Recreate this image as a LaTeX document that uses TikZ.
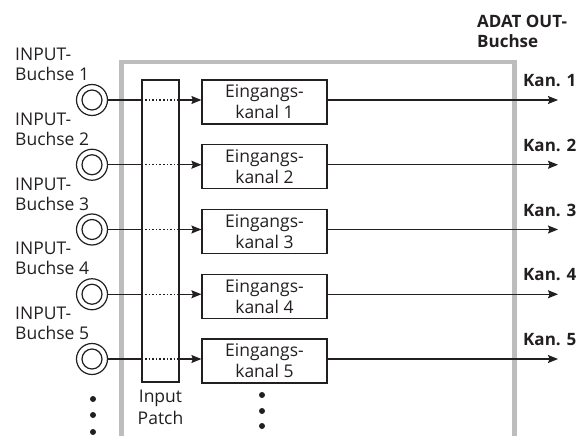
\documentclass[tikz,border=0pt]{standalone}
\usepackage{fontspec}
\setmainfont{Open Sans}
\usetikzlibrary{arrows.meta}
\definecolor{ink}{HTML}{231F20}
\definecolor{frame}{HTML}{BDBDBD}
\begin{document}
\begin{tikzpicture}[x=1pt,y=-1pt,
  jackout/.style={circle, draw=ink, line width=1.2pt, minimum size=31pt, inner sep=0pt},
  jackin/.style={circle, draw=ink, line width=1.2pt, minimum size=20pt, inner sep=0pt},
  chbox/.style={draw=ink, line width=1.2pt, minimum width=125pt, minimum height=44pt, inner sep=0pt, align=center, font=\fontsize{17.5}{21}\selectfont, text=ink},
  lbl/.style={anchor=north west, inner sep=0pt, align=left, font=\fontsize{17.5}{20}\selectfont, text=ink},
  kan/.style={anchor=base west, inner sep=0pt, font=\bfseries\fontsize{17}{20}\selectfont, text=ink},
  arr/.style={-{Stealth[length=10pt,width=8pt,inset=1.5pt]}, draw=ink, line width=1.1pt},
  conn/.style={draw=ink, line width=1.1pt},
  dot/.style={circle, fill=ink, minimum size=6pt, inner sep=0pt}
]
\useasboundingbox (0,0) rectangle (586,436);
% gray frame
\draw[frame, line width=4.7pt] (121.5,440) -- (121.5,62) -- (514.5,62) -- (514.5,440);
% input patch
\node[draw=ink, line width=1.2pt, minimum width=37pt, minimum height=302pt, inner sep=0pt] (patch) at (160.5,231) {};
\node[anchor=north, inner sep=0pt, align=center, font=\fontsize{17.5}{22}\selectfont, text=ink] (patchlbl) at (160.5,390) {Input\\Patch};
% header
\node[anchor=north west, inner sep=0pt, align=left, font=\bfseries\fontsize{17}{20}\selectfont, text=ink] (adat) at (477,15) {ADAT OUT-\\Buchse};
\foreach \i in {1,...,5}{
  \pgfmathsetmacro{\yy}{100+64.75*(\i-1)}
  \node[jackout] (jo\i) at (92,\yy) {};
  \node[jackin] (ji\i) at (92,\yy) {};
  \node[lbl] (in\i) at (15,\yy-52) {INPUT-\\Buchse \i};
  \node[chbox] (ch\i) at (264.5,\yy+2) {Eingangs-\\kanal \i};
  \coordinate (out\i) at (558,\yy);
  \node[kan] (kan\i) at (523,\yy-13.5) {Kan. \i};
  \draw[conn] (jo\i.east) -- (jo\i.east -| patch.west);
  \draw[conn, dash pattern=on 1.6pt off 2pt] (jo\i.east -| patch.west) -- (jo\i.east -| patch.east);
  \draw[arr] (jo\i.east -| patch.east) -- (jo\i.east -| ch\i.west);
  \draw[arr] (ch\i.east |- out\i) -- (out\i);
}
\foreach \j/\y in {1/399,2/415,3/432}{
  \node[dot] (ldot\j) at (93,\y) {};
}
\foreach \j/\y in {1/395,2/411,3/426}{
  \node[dot] (mdot\j) at (262,\y) {};
}
\end{tikzpicture}
\end{document}
